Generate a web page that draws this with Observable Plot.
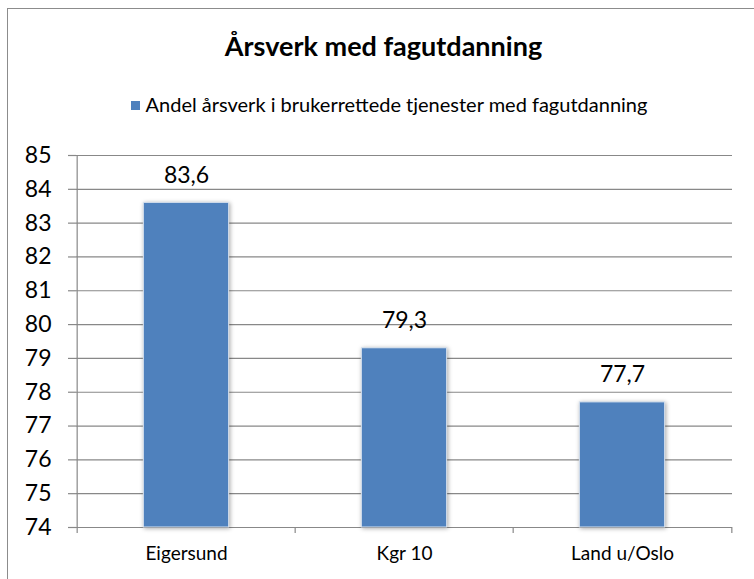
<!DOCTYPE html>
<html>
<head>
<meta charset="utf-8">
<script src="https://cdn.jsdelivr.net/npm/d3@7"></script>
<script src="https://cdn.jsdelivr.net/npm/@observablehq/plot@0.6"></script>
<style>
  html, body { margin: 0; padding: 0; background: #fff; overflow: hidden; }
  #wrap { position: relative; width: 754px; height: 579px; font-family: Lato, "Open Sans", sans-serif; color: #000; }
  #border { position: absolute; left: 7px; top: 8px; width: 760px; height: 590px; border: 1px solid #8c8c8c; box-sizing: border-box; }
  #title { position: absolute; left: 0; width: 767px; top: 28px; text-align: center; font-weight: bold; font-size: 27px; line-height: 36px; }
  #legend { position: absolute; left: 0; width: 778px; top: 91px; text-align: center; font-size: 20px; line-height: 26px; }
  #legend .sw { display: inline-block; width: 9px; height: 9px; background: #4F81BD; margin-right: 6px; vertical-align: 2px; }
  #chart { position: absolute; left: 0; top: 0; }
</style>
</head>
<body>
<div id="wrap">
  <div id="border"></div>
  <div id="title">Årsverk med fagutdanning</div>
  <div id="legend"><span class="sw"></span><span id="legtext">Andel årsverk i brukerrettede tjenester med fagutdanning</span></div>
  <div id="chart"></div>
</div>
<script>
const categories = ["Eigersund", "Kgr 10", "Land u/Oslo"];
const values = [83.6, 79.3, 77.7];
const yTicks = [74, 75, 76, 77, 78, 79, 80, 81, 82, 83, 84, 85];
const seriesName = "Andel årsverk i brukerrettede tjenester med fagutdanning";

const data = categories.map((c, i) => ({cat: c, value: values[i]}));

const W = 754, H = 579;
const mL = 76, mR = 22, mT = 155, mB = 52;
const step = (W - mL - mR) / categories.length;
const barW = 86;
const inset = (step - barW) / 2;
const yMin = yTicks[0], yMax = yTicks[yTicks.length - 1];
const gridColor = "#888888";
const fmt = v => v.toFixed(1).replace(".", ",");

const chart = Plot.plot({
  width: W,
  height: H,
  marginTop: mT,
  marginBottom: mB,
  marginLeft: mL,
  marginRight: mR,
  style: {background: "transparent", fontFamily: "Lato, 'Open Sans', sans-serif", color: "#000", overflow: "visible"},
  x: {domain: categories, padding: 0},
  y: {domain: [yMin, yMax]},
  marks: [
    Plot.ruleY(yTicks, {stroke: gridColor, strokeWidth: 1.2}),
    Plot.axisY({ticks: yTicks, tickSize: 8, tickPadding: 17, fontSize: 23, stroke: gridColor, strokeWidth: 1.2, tickFormat: d => String(d), label: null, strokeOpacity: 1}),
    Plot.ruleX([yMin], {x: () => categories[0], dx: -step / 2, y1: yMin, y2: yMax, stroke: gridColor, strokeWidth: 1.2}),
    Plot.ruleX(categories, {x: d => d, dx: -step / 2, y1: yMin, y2: yMin, insetBottom: -6, stroke: gridColor, strokeWidth: 1.2}),
    Plot.ruleX([categories[categories.length - 1]], {x: d => d, dx: step / 2, y1: yMin, y2: yMin, insetBottom: -6, stroke: gridColor, strokeWidth: 1.2}),
    Plot.axisX({tickSize: 0, tickPadding: 19, fontSize: 19, label: null}),
    Plot.barY(data, {x: "cat", y1: () => yMin, y2: "value", fill: "#4F81BD", stroke: "#dbe4f0", strokeWidth: 1, insetLeft: inset, insetRight: inset, className: "bars"}),
    Plot.text(data, {x: "cat", y: "value", text: d => fmt(d.value), lineAnchor: "bottom", dy: -20, fontSize: 23, fill: "#000"})
  ]
});
chart.querySelectorAll(".bars rect").forEach(r => r.style.filter = "drop-shadow(1px 1px 2px rgba(0,0,0,0.35))");
document.getElementById("chart").appendChild(chart);
</script>
</body>
</html>
